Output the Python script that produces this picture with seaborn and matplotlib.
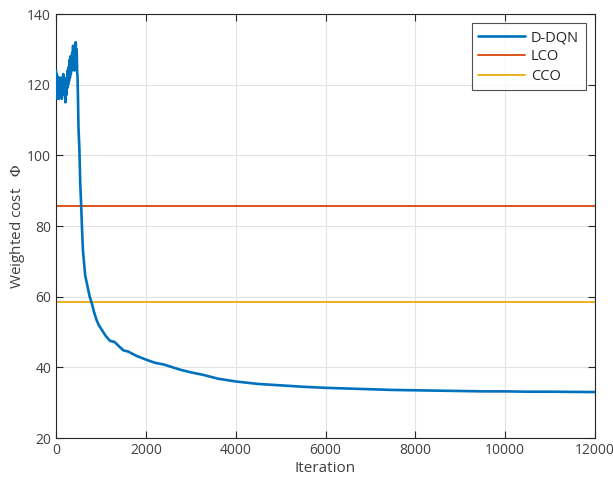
import matplotlib
matplotlib.use("Agg")
import matplotlib.pyplot as plt
import seaborn as sns
import pandas as pd

iterations = [0, 10, 20, 30, 40, 50, 60, 70, 80, 90, 100, 110, 120, 130, 140, 150, 160, 170, 180, 190,
              200, 210, 220, 230, 240, 250, 260, 270, 280, 290, 300, 310, 320, 330, 340, 350, 360, 370, 380, 390,
              400, 410, 420, 430, 440, 450, 460, 470, 480, 490, 500, 520, 540, 560, 580, 600, 650, 700, 750, 800,
              850, 900, 950, 1000, 1100, 1200, 1300, 1400, 1500, 1600, 1800, 2000, 2200, 2400, 2600, 2800, 3000,
              3300, 3600, 4000, 4500, 5000, 5500, 6000, 6500, 7000, 7500, 8000, 8500, 9000, 9500, 10000, 10500,
              11000, 11500, 12000]
ddqn_cost = [124, 118, 123, 116, 121, 117, 122, 116, 121, 118, 122, 117, 120, 116, 121, 118, 123, 119, 122, 117,
             121, 115, 119, 117, 122, 119, 124, 120, 125, 121, 127, 122, 128, 123, 127, 124, 129, 125, 131, 126,
             130, 124, 131, 125, 132, 126, 130, 124, 122, 116, 108, 102, 92, 86, 79, 73, 66, 63, 60, 58,
             55.5, 53.5, 52, 51, 49, 47.5, 47.2, 46, 44.8, 44.5, 43.2, 42.2, 41.3, 40.8, 40, 39.2, 38.6,
             37.8, 36.8, 36, 35.3, 34.9, 34.5, 34.2, 34, 33.8, 33.6, 33.5, 33.4, 33.3, 33.2, 33.2, 33.1,
             33.1, 33.05, 33]
x_range = [0, 12000]
lco_cost = [85.6, 85.6]
cco_cost = [58.6, 58.6]
series_names = ["D-DQN", "LCO", "CCO"]
x_ticks = [0, 2000, 4000, 6000, 8000, 10000, 12000]
y_ticks = [20, 40, 60, 80, 100, 120, 140]

sns.set_theme(style="white")
plt.rcParams["font.family"] = ["Open Sans", "DejaVu Sans"]
plt.rcParams["mathtext.fontset"] = "stix"

fig = plt.figure(figsize=(6.13, 4.78), dpi=100)
ax = fig.add_axes([56/613, 40/478, (595-56)/613, (438-14)/478])

df_d = pd.DataFrame({"x": iterations, "y": ddqn_cost})
df_l = pd.DataFrame({"x": x_range, "y": lco_cost})
df_c = pd.DataFrame({"x": x_range, "y": cco_cost})
sns.lineplot(data=df_d, x="x", y="y", ax=ax, color="#0072BD", lw=1.9, label=series_names[0], zorder=3)
sns.lineplot(data=df_l, x="x", y="y", ax=ax, color="#D95319", lw=1.4, label=series_names[1], zorder=2)
sns.lineplot(data=df_c, x="x", y="y", ax=ax, color="#EDB120", lw=1.4, label=series_names[2], zorder=2)

ax.set_xlim(0, 12000)
ax.set_ylim(20, 140)
ax.set_xticks(x_ticks)
ax.set_yticks(y_ticks)
ax.grid(True, color="#e3e3e3", lw=0.8)
ax.set_axisbelow(True)
for s in ax.spines.values():
    s.set_color("#262626")
    s.set_linewidth(0.8)
ax.tick_params(direction="in", length=5, width=0.8, colors="#262626", labelsize=10,
               top=True, right=True, left=True, bottom=True, labelcolor="#404040")
ax.set_xlabel("Iteration", fontsize=11, color="#404040", labelpad=2)
ax.set_ylabel(r"Weighted cost   $\Phi$", fontsize=11, color="#404040", labelpad=0)

leg = ax.legend(loc="upper right", fontsize=10.5, frameon=True, fancybox=False,
                edgecolor="#262626", borderaxespad=0.65, handlelength=3.2, handletextpad=0.4,
                borderpad=0.45, labelspacing=0.3)
leg.get_frame().set_linewidth(0.8)
for t in leg.get_texts():
    t.set_color("#262626")

fig.savefig("out.png", dpi=100)
